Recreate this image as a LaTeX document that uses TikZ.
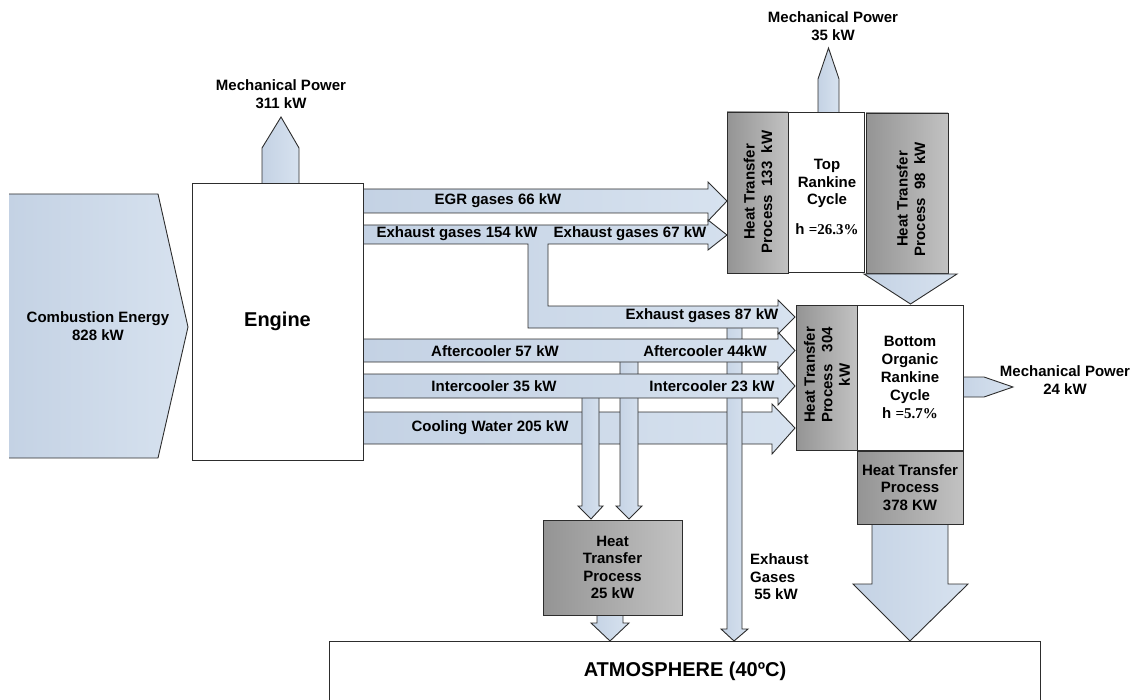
\documentclass[tikz,border=0pt]{standalone}
\usepackage{fontspec}
\setmainfont{Liberation Sans}
\newfontfamily\timesbf{Liberation Serif}
\definecolor{edge}{RGB}{45,45,45}
\definecolor{flowA}{RGB}{196,210,228}
\definecolor{flowB}{RGB}{215,226,239}
\definecolor{grayA}{RGB}{148,148,148}
\definecolor{grayB}{RGB}{194,194,194}
\begin{document}
\begin{tikzpicture}[x=1pt,y=-1pt,
  flow/.style={draw=edge,line width=0.9pt,left color=flowA,right color=flowB,line join=miter},
  hbox/.style={draw=edge,line width=0.9pt,left color=grayA,right color=grayB,inner sep=0pt},
  wbox/.style={draw=edge,line width=0.9pt,fill=white,inner sep=0pt},
  lbl/.style={font=\bfseries\fontsize{15}{17.5}\selectfont,align=center,inner sep=0pt,text=black},
  big/.style={font=\bfseries\fontsize{20}{24}\selectfont,inner sep=0pt,text=black}]
\useasboundingbox (0,0) rectangle (1139,700);
\clip (0,0) rectangle (1139,700);

% fuel input
\shade[left color=flowA,right color=flowB] (9,194) -- (158,194) -- (188,327) -- (158,458) -- (9,458) -- cycle;
\draw[edge,line width=0.9pt] (9,194) -- (158,194) -- (188,327) -- (158,458) -- (9,458);

% engine shaft power
\draw[flow] (262,190) -- (262,148) -- (281,117) -- (299,148) -- (299,190) -- cycle;

% cooling water stream
\draw[flow] (363,412) -- (772,412) -- (772,404) -- (795,428) -- (772,454) -- (772,444) -- (363,444) -- cycle;

% downward branches to the low-temperature heat exchanger and the stack
\draw[flow] (727,320) -- (727,629) -- (721,629) -- (734,641) -- (748,629) -- (742,629) -- (742,320);
\draw[flow] (582,390) -- (582,506) -- (578,506) -- (591,519) -- (603,506) -- (599,506) -- (599,390);
\draw[flow] (620,355) -- (620,506) -- (616,506) -- (629,519) -- (642,506) -- (638,506) -- (638,355);

% intercooler and aftercooler streams
\draw[flow] (363,374) -- (778,374) -- (778,367) -- (795,386) -- (778,405) -- (778,398) -- (363,398) -- cycle;
\draw[flow] (363,339) -- (778,339) -- (778,332) -- (795,350.5) -- (778,369) -- (778,362) -- (363,362) -- cycle;

% exhaust stream split between the two cycles
\draw[flow] (363,225) -- (708,225) -- (708,220) -- (727,235) -- (708,250) -- (708,244) -- (548,244)
  -- (548,306) -- (778,306) -- (778,300) -- (795,317) -- (778,334) -- (778,328) -- (528,328)
  -- (528,244) -- (363,244) -- cycle;

% EGR stream
\draw[flow] (363,189) -- (708,189) -- (708,182) -- (727,201) -- (708,221) -- (708,213) -- (363,213) -- cycle;

% engine
\node[wbox,minimum width=171pt,minimum height=277pt] (engine) at (277.5,321.5) {};

% top Rankine cycle
\draw[flow] (818,118) -- (818,79) -- (828.5,48) -- (839,79) -- (839,118) -- cycle;
\node[hbox,minimum width=61pt,minimum height=161pt] (ht133) at (757.5,192.5) {};
\node[wbox,minimum width=76pt,minimum height=160pt] (top) at (826,192) {};
\node[hbox,minimum width=82pt,minimum height=160pt] (ht98) at (907,193) {};
\draw[flow] (864,274) -- (957,274) -- (910.5,304) -- cycle;

% bottom organic Rankine cycle
\draw[flow] (955,377) -- (984,377) -- (1013,387) -- (984,397) -- (955,397) -- cycle;
\node[hbox,minimum width=61pt,minimum height=145pt] (ht304) at (826.5,377.5) {};
\node[wbox,minimum width=106pt,minimum height=145pt] (orc) at (910,377.5) {};
\draw[flow] (872,520) -- (872,584) -- (853,584) -- (910,641) -- (968,584) -- (948,584) -- (948,520) -- cycle;
\node[hbox,minimum width=106pt,minimum height=73pt] (ht378) at (910,487.5) {};

% low-temperature heat exchanger
\draw[flow] (597,610) -- (597,623) -- (591,623) -- (610,641) -- (629,623) -- (623,623) -- (623,610) -- cycle;
\node[hbox,minimum width=139pt,minimum height=95pt] (ht25) at (612.5,567.5) {};

% ambient
\draw[edge,line width=0.9pt,fill=white] (329,641) rectangle (1040,720);
\coordinate (atmtop) at (684.5,641);

% labels
\node[lbl] (mp311) at (281,94) {Mechanical Power\\311 kW};
\node[lbl] (comb) at (98,326) {Combustion Energy\\828 kW};
\node[big] (engt) at (engine.center) {Engine};
\node[lbl] (egr) at (498,201) {EGR gases 66 kW};
\node[lbl] (ex154) at (457,234) {Exhaust gases 154 kW};
\node[lbl] (ex67) at (630,234) {Exhaust gases 67 kW};
\node[lbl] (ex87) at (702,316) {Exhaust gases 87 kW};
\node[lbl] (ac57) at (495,351) {Aftercooler 57 kW};
\node[lbl] (ac44) at (705,351) {Aftercooler 44kW};
\node[lbl] (ic35) at (494,386) {Intercooler 35 kW};
\node[lbl] (ic23) at (712,386) {Intercooler 23 kW};
\node[lbl] (cw) at (490,428) {Cooling Water 205 kW};
\node[lbl] (mp35) at (833,26) {Mechanical Power\\35 kW};
\node[lbl,rotate=90] (ht133t) at (758,192) {Heat Transfer\\Process\ \ 133\ \ kW};
\node[lbl] (topt) at (827,183.5) {Top\\Rankine\\Cycle};
\node[lbl] (eta1) at (827,229) {h {\timesbf\bfseries =26.3\%}};
\node[lbl,rotate=90] (ht98t) at (911,199) {Heat Transfer\\Process\ \ 98\ \ kW};
\node[lbl,rotate=90] (ht304t) at (827,375) {Heat Transfer\\Process\ \ \ 304\\kW};
\node[lbl,font=\bfseries\fontsize{15}{18}\selectfont] (orct) at (910,377) {Bottom\\Organic\\Rankine\\Cycle\\h {\timesbf\bfseries =5.7\%}};
\node[lbl] (mp24) at (1065,380) {Mechanical Power\\24 kW};
\node[lbl] (ht378t) at (ht378.center) {Heat Transfer\\Process\\378 KW};
\node[lbl] (ht25t) at (ht25.center) {Heat\\Transfer\\Process\\25 kW};
\node[lbl,align=left,anchor=west] (ex55) at (750,577) {Exhaust\\Gases\\\ 55 kW};
\node[big] (atm) at (685,671) {ATMOSPHERE (40ºC)};
\end{tikzpicture}
\end{document}
